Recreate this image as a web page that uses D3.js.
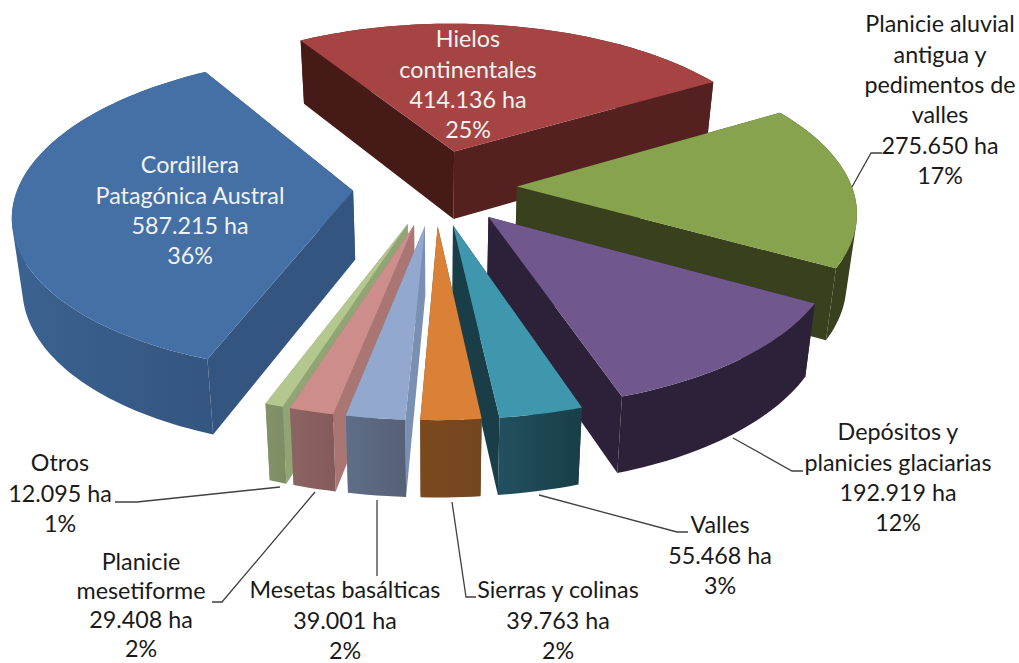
<!DOCTYPE html>
<html><head><meta charset="utf-8">
<script src="https://cdn.jsdelivr.net/npm/d3@7"></script>
<style>html,body{margin:0;background:#fff}svg{display:block}text{font-family:Lato,"Open Sans",sans-serif}</style>
</head><body><svg id="c" width="1019" height="663"></svg>
<script>
const categories=["Hielos continentales","Planicie aluvial antigua y pedimentos de valles","Depósitos y planicies glaciarias","Valles","Sierras y colinas","Mesetas basálticas","Planicie mesetiforme","Otros","Cordillera Patagónica Austral"];
const hectares=[414136,275650,192919,55468,39763,39001,29408,12095,587215];
const valueLabels=["414.136 ha","275.650 ha","192.919 ha","55.468 ha","39.763 ha","39.001 ha","29.408 ha","12.095 ha","587.215 ha"];
const percentLabels=["25%","17%","12%","3%","2%","2%","2%","1%","36%"];

// styles
const topColors=["#a54443","#87a34d","#70578e","#3f97ae","#da8137","#92a8cf","#cc8d8b","#b4c78f","#4470a6"];
const leftWall=["#451a17","#39401d","#2c2138","#193e48","#6e421b","#7a90b3","#a97674","#90a474","#34557f"];
const rightWall=["#542120","#39401d","#2c2138","#193e48","#6e421b","#7a90b3","#a97674","#90a474","#34557f"];
const outerA=["#542120","#39401d","#2c2138","#225060","#7a4a1e","#5f6d88","#8c6462","#829269","#3b6291"];
const outerB=["#542120","#39401d","#2c2138","#193e48","#74461e","#566176","#845b5a","#7e8d63","#34557f"];
const drawOrder=[0,1,2,8,7,6,5,3,4];

// camera
const cx=435,cy=187,R=335,explode=82,tilt=0.462,persp=2400,depth=69,bottomShrink=0.975;
const startDeg=-31.4;
const project=(X,Y,bottom)=>{
  const s=persp/(persp+Y);
  const x=X*s*(bottom?bottomShrink:1);
  const y=-Y*tilt*s+(bottom?depth*Math.pow(s,0.6):0);
  return [cx+x,cy+y];
};
const pie=d3.pie().sort(null).startAngle(startDeg*Math.PI/180).endAngle((startDeg+360)*Math.PI/180);
const arcs=pie(hectares);
const line=d3.line();
const svg=d3.select("#c");
const defs=svg.append("defs");

drawOrder.forEach(i=>{
  const a=arcs[i],mid=(a.startAngle+a.endAngle)/2;
  const ox=explode*Math.sin(mid),oy=explode*Math.cos(mid);
  const n=Math.max(4,Math.ceil((a.endAngle-a.startAngle)*40));
  const rim=d3.range(n+1).map(k=>{
    const t=a.startAngle+(a.endAngle-a.startAngle)*k/n;
    return [ox+R*Math.sin(t),oy+R*Math.cos(t)];
  });
  const p=(q,b)=>project(q[0],q[1],b);
  const apex=[ox,oy],first=rim[0],last=rim[n];
  const g=svg.append("g").attr("class","slice");
  // outer wall as one path of consistently wound quads, so the silhouette stays filled
  const quads=d3.range(n).map(k=>{
    const q=[p(rim[k],0),p(rim[k+1],0),p(rim[k+1],1),p(rim[k],1)];
    return d3.polygonArea(q)<0?q.reverse():q;
  });
  const ext=d3.extent(quads.flat(),d=>d[0]);
  const gid="g"+i;
  const lg=defs.append("linearGradient").attr("id",gid).attr("gradientUnits","userSpaceOnUse")
    .attr("x1",ext[0]).attr("x2",ext[1]).attr("y1",0).attr("y2",0);
  lg.append("stop").attr("offset",0).attr("stop-color",outerA[i]);
  lg.append("stop").attr("offset",1).attr("stop-color",outerB[i]);
  const drawOuter=()=>g.append("path").attr("d",quads.map(q=>line(q)+"Z").join("")).attr("fill",`url(#${gid})`);
  const backFacing=Math.cos(mid)>0.5;
  if(backFacing) drawOuter();
  g.append("path").attr("d",line([p(apex,0),p(first,0),p(first,1),p(apex,1)])+"Z").attr("fill",leftWall[i]);
  g.append("path").attr("d",line([p(apex,0),p(last,0),p(last,1),p(apex,1)])+"Z").attr("fill",rightWall[i]);
  if(!backFacing) drawOuter();
  g.append("path").attr("d",line([p(apex,0),...rim.map(q=>p(q,0))])+"Z").attr("fill",topColors[i]);
});

// label layout
const labelLines=[["Hielos","continentales"],["Planicie aluvial","antigua y","pedimentos de","valles"],["Depósitos y","planicies glaciarias"],["Valles"],["Sierras y colinas"],["Mesetas basálticas"],["Planicie","mesetiforme"],["Otros"],["Cordillera","Patagónica Austral"]];
const labelPos=[[468,39],[940,24],[898,432],[720,525],[558,590],[345,590],[141,562],[60,463],[190,165]];
const labelStep=[30.4,30.4,30.4,30.4,30.4,30.4,29,30.4,30.4];
const labelFill=["#f2f2f2","#1a1a1a","#1a1a1a","#1a1a1a","#1a1a1a","#1a1a1a","#1a1a1a","#1a1a1a","#f2f2f2"];
const fontSize=23.3;
const leaders=[
 [[852,187],[871,153],[882,153]],
 [[733,438],[792,471],[803,471]],
 [[539,495],[677,532],[688,532]],
 [[452,502],[466,597],[476,597]],
 [[377,500],[377,576]],
 [[315,492],[222,602],[212,602]],
 [[280,487],[137,502],[115,502]]
];
svg.append("g").selectAll("path").data(leaders).join("path")
  .attr("d",d=>line(d)).attr("fill","none").attr("stroke","#404040").attr("stroke-width",1.3);
categories.forEach((c,i)=>{
  const lines=[...labelLines[i],valueLabels[i],percentLabels[i]];
  const t=svg.append("text").attr("text-anchor","middle").attr("fill",labelFill[i]).attr("font-size",fontSize);
  lines.forEach((l,k)=>t.append("tspan").attr("x",labelPos[i][0]).attr("y",labelPos[i][1]+k*labelStep[i]).attr("dy","0.35em").text(l));
});
</script></body></html>
